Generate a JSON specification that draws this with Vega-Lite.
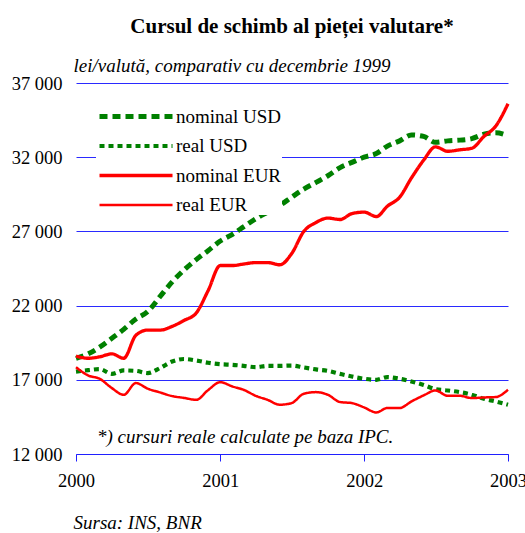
{
  "$schema": "https://vega.github.io/schema/vega-lite/v6.json",
  "width": 432,
  "height": 371,
  "autosize": {"type": "none"},
  "padding": {"left": 76, "top": 83, "right": 17, "bottom": 79},
  "background": "white",
  "title": {"text": "Cursul de schimb al pieței valutare*", "font": "Liberation Serif", "fontSize": 21, "fontWeight": "bold", "anchor": "middle", "frame": "group", "offset": 19, "color": "black"},
  "config": {
    "view": {"stroke": null},
    "font": "Liberation Serif",
    "legend": {
      "orient": "none", "legendX": 20, "legendY": 24, "fillColor": "white", "padding": 0,
      "symbolType": "M-1,0H11.17", "symbolSize": 144, "labelFont": "Liberation Serif", "labelFontSize": 19,
      "labelColor": "black", "rowPadding": 9.5, "labelOffset": 61, "labelLimit": 300
    }
  },
  "datasets": {
    "rates": [
      {"s": "nominal USD", "d": "2000-01", "v": 18450}, {"s": "nominal USD", "d": "2000-02", "v": 18750}, {"s": "nominal USD", "d": "2000-03", "v": 19200}, {"s": "nominal USD", "d": "2000-04", "v": 19800}, {"s": "nominal USD", "d": "2000-05", "v": 20400}, {"s": "nominal USD", "d": "2000-06", "v": 21100}, {"s": "nominal USD", "d": "2000-07", "v": 21600}, {"s": "nominal USD", "d": "2000-08", "v": 22600}, {"s": "nominal USD", "d": "2000-09", "v": 23600}, {"s": "nominal USD", "d": "2000-10", "v": 24400}, {"s": "nominal USD", "d": "2000-11", "v": 25100}, {"s": "nominal USD", "d": "2000-12", "v": 25700},
      {"s": "nominal USD", "d": "2001-01", "v": 26350}, {"s": "nominal USD", "d": "2001-02", "v": 26800}, {"s": "nominal USD", "d": "2001-03", "v": 27300}, {"s": "nominal USD", "d": "2001-04", "v": 27850}, {"s": "nominal USD", "d": "2001-05", "v": 28300}, {"s": "nominal USD", "d": "2001-06", "v": 28750}, {"s": "nominal USD", "d": "2001-07", "v": 29300}, {"s": "nominal USD", "d": "2001-08", "v": 29850}, {"s": "nominal USD", "d": "2001-09", "v": 30300}, {"s": "nominal USD", "d": "2001-10", "v": 30750}, {"s": "nominal USD", "d": "2001-11", "v": 31300}, {"s": "nominal USD", "d": "2001-12", "v": 31650},
      {"s": "nominal USD", "d": "2002-01", "v": 32000}, {"s": "nominal USD", "d": "2002-02", "v": 32250}, {"s": "nominal USD", "d": "2002-03", "v": 32750}, {"s": "nominal USD", "d": "2002-04", "v": 33100}, {"s": "nominal USD", "d": "2002-05", "v": 33500}, {"s": "nominal USD", "d": "2002-06", "v": 33400}, {"s": "nominal USD", "d": "2002-07", "v": 33000}, {"s": "nominal USD", "d": "2002-08", "v": 33100}, {"s": "nominal USD", "d": "2002-09", "v": 33150}, {"s": "nominal USD", "d": "2002-10", "v": 33250}, {"s": "nominal USD", "d": "2002-11", "v": 33550}, {"s": "nominal USD", "d": "2002-12", "v": 33650}, {"s": "nominal USD", "d": "2003-01", "v": 33450},

      {"s": "real USD", "d": "2000-01", "v": 17550}, {"s": "real USD", "d": "2000-02", "v": 17650}, {"s": "real USD", "d": "2000-03", "v": 17720}, {"s": "real USD", "d": "2000-04", "v": 17400}, {"s": "real USD", "d": "2000-05", "v": 17630}, {"s": "real USD", "d": "2000-06", "v": 17600}, {"s": "real USD", "d": "2000-07", "v": 17450}, {"s": "real USD", "d": "2000-08", "v": 17790}, {"s": "real USD", "d": "2000-09", "v": 18230}, {"s": "real USD", "d": "2000-10", "v": 18400}, {"s": "real USD", "d": "2000-11", "v": 18300}, {"s": "real USD", "d": "2000-12", "v": 18150},
      {"s": "real USD", "d": "2001-01", "v": 18050}, {"s": "real USD", "d": "2001-02", "v": 18010}, {"s": "real USD", "d": "2001-03", "v": 17940}, {"s": "real USD", "d": "2001-04", "v": 17850}, {"s": "real USD", "d": "2001-05", "v": 17940}, {"s": "real USD", "d": "2001-06", "v": 17940}, {"s": "real USD", "d": "2001-07", "v": 17960}, {"s": "real USD", "d": "2001-08", "v": 17830}, {"s": "real USD", "d": "2001-09", "v": 17700}, {"s": "real USD", "d": "2001-10", "v": 17600}, {"s": "real USD", "d": "2001-11", "v": 17400}, {"s": "real USD", "d": "2001-12", "v": 17220},
      {"s": "real USD", "d": "2002-01", "v": 17070}, {"s": "real USD", "d": "2002-02", "v": 17000}, {"s": "real USD", "d": "2002-03", "v": 17180}, {"s": "real USD", "d": "2002-04", "v": 17070}, {"s": "real USD", "d": "2002-05", "v": 16890}, {"s": "real USD", "d": "2002-06", "v": 16650}, {"s": "real USD", "d": "2002-07", "v": 16370}, {"s": "real USD", "d": "2002-08", "v": 16280}, {"s": "real USD", "d": "2002-09", "v": 16170}, {"s": "real USD", "d": "2002-10", "v": 16000}, {"s": "real USD", "d": "2002-11", "v": 15720}, {"s": "real USD", "d": "2002-12", "v": 15540}, {"s": "real USD", "d": "2003-01", "v": 15320},

      {"s": "nominal EUR", "d": "2000-01", "v": 18600}, {"s": "nominal EUR", "d": "2000-02", "v": 18450}, {"s": "nominal EUR", "d": "2000-03", "v": 18550}, {"s": "nominal EUR", "d": "2000-04", "v": 18750}, {"s": "nominal EUR", "d": "2000-05", "v": 18450}, {"s": "nominal EUR", "d": "2000-06", "v": 20000}, {"s": "nominal EUR", "d": "2000-07", "v": 20350}, {"s": "nominal EUR", "d": "2000-08", "v": 20350}, {"s": "nominal EUR", "d": "2000-09", "v": 20600}, {"s": "nominal EUR", "d": "2000-10", "v": 21000}, {"s": "nominal EUR", "d": "2000-11", "v": 21500}, {"s": "nominal EUR", "d": "2000-12", "v": 23000},
      {"s": "nominal EUR", "d": "2001-01", "v": 24700}, {"s": "nominal EUR", "d": "2001-02", "v": 24700}, {"s": "nominal EUR", "d": "2001-03", "v": 24800}, {"s": "nominal EUR", "d": "2001-04", "v": 24900}, {"s": "nominal EUR", "d": "2001-05", "v": 24900}, {"s": "nominal EUR", "d": "2001-06", "v": 24750}, {"s": "nominal EUR", "d": "2001-07", "v": 25500}, {"s": "nominal EUR", "d": "2001-08", "v": 27000}, {"s": "nominal EUR", "d": "2001-09", "v": 27600}, {"s": "nominal EUR", "d": "2001-10", "v": 27900}, {"s": "nominal EUR", "d": "2001-11", "v": 27800}, {"s": "nominal EUR", "d": "2001-12", "v": 28200},
      {"s": "nominal EUR", "d": "2002-01", "v": 28300}, {"s": "nominal EUR", "d": "2002-02", "v": 28000}, {"s": "nominal EUR", "d": "2002-03", "v": 28700}, {"s": "nominal EUR", "d": "2002-04", "v": 29300}, {"s": "nominal EUR", "d": "2002-05", "v": 30600}, {"s": "nominal EUR", "d": "2002-06", "v": 31800}, {"s": "nominal EUR", "d": "2002-07", "v": 32700}, {"s": "nominal EUR", "d": "2002-08", "v": 32400}, {"s": "nominal EUR", "d": "2002-09", "v": 32500}, {"s": "nominal EUR", "d": "2002-10", "v": 32600}, {"s": "nominal EUR", "d": "2002-11", "v": 33400}, {"s": "nominal EUR", "d": "2002-12", "v": 34100}, {"s": "nominal EUR", "d": "2003-01", "v": 35600},

      {"s": "real EUR", "d": "2000-01", "v": 17850}, {"s": "real EUR", "d": "2000-02", "v": 17290}, {"s": "real EUR", "d": "2000-03", "v": 17070}, {"s": "real EUR", "d": "2000-04", "v": 16440}, {"s": "real EUR", "d": "2000-05", "v": 15990}, {"s": "real EUR", "d": "2000-06", "v": 16780}, {"s": "real EUR", "d": "2000-07", "v": 16400}, {"s": "real EUR", "d": "2000-08", "v": 16150}, {"s": "real EUR", "d": "2000-09", "v": 15900}, {"s": "real EUR", "d": "2000-10", "v": 15780}, {"s": "real EUR", "d": "2000-11", "v": 15650}, {"s": "real EUR", "d": "2000-12", "v": 16300},
      {"s": "real EUR", "d": "2001-01", "v": 16840}, {"s": "real EUR", "d": "2001-02", "v": 16550}, {"s": "real EUR", "d": "2001-03", "v": 16330}, {"s": "real EUR", "d": "2001-04", "v": 15920}, {"s": "real EUR", "d": "2001-05", "v": 15650}, {"s": "real EUR", "d": "2001-06", "v": 15320}, {"s": "real EUR", "d": "2001-07", "v": 15430}, {"s": "real EUR", "d": "2001-08", "v": 16060}, {"s": "real EUR", "d": "2001-09", "v": 16170}, {"s": "real EUR", "d": "2001-10", "v": 15990}, {"s": "real EUR", "d": "2001-11", "v": 15500}, {"s": "real EUR", "d": "2001-12", "v": 15430},
      {"s": "real EUR", "d": "2002-01", "v": 15140}, {"s": "real EUR", "d": "2002-02", "v": 14800}, {"s": "real EUR", "d": "2002-03", "v": 15100}, {"s": "real EUR", "d": "2002-04", "v": 15100}, {"s": "real EUR", "d": "2002-05", "v": 15540}, {"s": "real EUR", "d": "2002-06", "v": 15950}, {"s": "real EUR", "d": "2002-07", "v": 16280}, {"s": "real EUR", "d": "2002-08", "v": 15920}, {"s": "real EUR", "d": "2002-09", "v": 15920}, {"s": "real EUR", "d": "2002-10", "v": 15770}, {"s": "real EUR", "d": "2002-11", "v": 15810}, {"s": "real EUR", "d": "2002-12", "v": 15840}, {"s": "real EUR", "d": "2003-01", "v": 16330}
    ]
  },
  "layer": [
    {
      "data": {"name": "rates"},
      "mark": {"type": "line", "interpolate": "monotone", "strokeCap": "butt"},
      "encoding": {
        "x": {
          "field": "d", "type": "temporal",
          "scale": {"type": "utc", "domain": [{"year": 2000, "month": 1, "date": 1, "utc": true}, {"year": 2003, "month": 1, "date": 1, "utc": true}]},
          "axis": {
            "values": [{"year": 2000, "month": 1, "date": 1, "utc": true}, {"year": 2001, "month": 1, "date": 1, "utc": true}, {"year": 2002, "month": 1, "date": 1, "utc": true}, {"year": 2003, "month": 1, "date": 1, "utc": true}],
            "labelExpr": "utcFormat(datum.value, '%Y')",
            "grid": false, "domainColor": "#2020ff", "domainWidth": 1, "tickColor": "#2020ff", "tickSize": 7, "tickWidth": 1,
            "labelFont": "Liberation Serif", "labelFontSize": 18.5, "labelColor": "black", "labelPadding": 10, "labelFlush": false, "labelOverlap": false,
            "title": "Sursa: INS, BNR", "titleFont": "Liberation Serif", "titleFontSize": 19, "titleFontStyle": "italic", "titleFontWeight": "normal", "titleColor": "black",
            "titleAnchor": "start", "titleAlign": "left", "titleX": -3, "titleY": 68, "titleBaseline": "middle"
          }
        },
        "y": {
          "field": "v", "type": "quantitative",
          "scale": {"domain": [12000, 37000], "nice": false, "zero": false},
          "axis": {
            "values": [12000, 17000, 22000, 27000, 32000, 37000],
            "labelExpr": "replace(format(datum.value, ','), ',', ' ')",
            "domain": false, "ticks": false, "grid": true, "gridColor": "#2a2aff", "gridWidth": 1, "gridOpacity": 1,
            "labelFont": "Liberation Serif", "labelFontSize": 18.5, "labelColor": "black", "labelPadding": 14, "labelBaseline": "middle",
            "title": "lei/valută, comparativ cu decembrie 1999", "titleAngle": 0, "titleAlign": "left", "titleX": -3, "titleY": -18, "titleBaseline": "middle",
            "titleFont": "Liberation Serif", "titleFontSize": 19, "titleFontStyle": "italic", "titleFontWeight": "normal", "titleColor": "black"
          }
        },
        "color": {
          "field": "s", "type": "nominal",
          "scale": {"domain": ["nominal USD", "real USD", "nominal EUR", "real EUR"], "range": ["#008000", "#008000", "#ff0000", "#ff0000"]},
          "legend": {"title": null}
        },
        "strokeDash": {
          "field": "s", "type": "nominal",
          "scale": {"domain": ["nominal USD", "real USD", "nominal EUR", "real EUR"], "range": [[8, 5], [5, 4], [1, 0], [1, 0]]},
          "legend": {"title": null}
        },
        "strokeWidth": {
          "field": "s", "type": "nominal",
          "scale": {"domain": ["nominal USD", "real USD", "nominal EUR", "real EUR"], "range": [5, 2.5, 5, 2.5]},
          "legend": {"title": null}
        }
      }
    },
    {
      "data": {"values": [{"note": "*) cursuri reale calculate pe baza IPC."}]},
      "mark": {"type": "text", "align": "left", "baseline": "middle", "font": "Liberation Serif", "fontStyle": "italic", "fontSize": 19, "color": "black"},
      "encoding": {
        "text": {"field": "note"},
        "x": {"datum": {"year": 2000, "month": 2, "date": 23, "utc": true}, "type": "temporal"},
        "y": {"datum": 13150, "type": "quantitative"}
      }
    }
  ]
}
